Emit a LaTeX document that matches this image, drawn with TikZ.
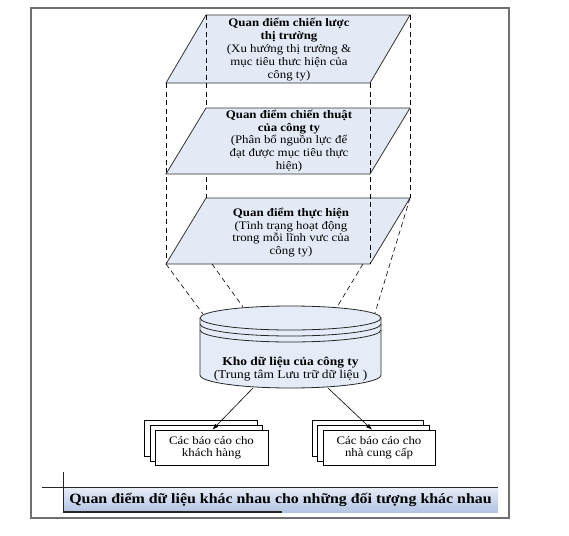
\documentclass[tikz,border=0pt]{standalone}
\usepackage{fontspec}
\setmainfont{Liberation Serif}[FakeStretch=1.12]
\usetikzlibrary{arrows.meta}
\definecolor{pfill}{HTML}{E3EAF6}
\definecolor{cfill}{HTML}{E6ECF7}
\definecolor{framegray}{HTML}{707070}
\definecolor{bartop}{HTML}{E9EEF8}
\definecolor{barbot}{HTML}{B2C4E3}
\tikzset{
  plane/.style={fill=pfill, draw=black!80, line width=0.8pt, line join=miter},
  proj/.style={draw=black, line width=0.6pt, dash pattern=on 5pt off 3.5pt},
  cyl/.style={fill=cfill, draw=black!85, line width=0.8pt},
  ptext/.style={align=center, font=\fontsize{11.5}{12.8}\selectfont, inner sep=0pt},
  rep/.style={draw=black, line width=0.7pt, fill=white},
  reptext/.style={rep, minimum height=35pt, align=center, font=\fontsize{11.5}{12}\selectfont, inner sep=0pt},
  conn/.style={draw=black, line width=0.6pt, -{Latex[length=6pt,width=4.5pt]}}
}
\begin{document}
\begin{tikzpicture}[x=1pt,y=-1pt]
\useasboundingbox (0,0) rectangle (569,535);
% outer frame
\draw[framegray, line width=1.2pt] (31,8) rectangle (509,518);

% plane 1
\path[plane] (166,83) -- (206,15) -- (410,15) -- (370,83) -- cycle;
% projection lines behind plane 2
\draw[proj] (206,15) -- (206,198);
\draw[proj] (410,15) -- (410,198);
\draw[proj] (166,83) -- (166,264);
% plane 2
\path[plane] (166,174) -- (206,108) -- (410,108) -- (370,174) -- cycle;
% plane 3
\path[plane] (166,264) -- (206,198) -- (410,198) -- (370,264) -- cycle;
% projection line in front
\draw[proj] (370,83) -- (370,264);

% texts of planes
\node[ptext] (t1) at (289,49.5) {\textbf{Quan điểm chiến lược}\\\textbf{thị trường}\\(Xu hướng thị trường \&\\mục tiêu thưc hiện của\\công ty)};
\node[ptext] (t2) at (289,141) {\textbf{Quan điểm chiến thuật}\\\textbf{của công ty}\\(Phân bổ nguồn lực để\\đạt được mục tiêu thực\\hiện)};
\node[ptext] (t3) at (291,232.5) {\textbf{Quan điểm thực hiện}\\(Tình trạng hoạt động\\trong mỗi lĩnh vưc của\\công ty)};

% projection lines to the warehouse
\draw[proj] (166,264) -- (203,314);
\draw[proj] (212,264) -- (243,307);
\draw[proj] (363,264) -- (337,307);
\draw[proj] (410,198) -- (375,313);

% cylinder
\path[cyl, draw=none] (200,318) -- (200,375) .. controls (200,382.2) and (240.5,388) .. (290.5,388)
   .. controls (340.5,388) and (381,382.2) .. (381,375) -- (381,318) -- cycle;
\draw[black!85, line width=0.8pt] (200,318) -- (200,375) .. controls (200,382.2) and (240.5,388) .. (290.5,388)
   .. controls (340.5,388) and (381,382.2) .. (381,375) -- (381,318);
\path[cyl] (290.5,318) ellipse [x radius=90.5, y radius=12];
\draw[black!85, line width=0.8pt] (200,324) .. controls (200,330.6) and (240.5,336) .. (290.5,336)
   .. controls (340.5,336) and (381,330.6) .. (381,324);
\draw[black!85, line width=0.8pt] (200,330) .. controls (200,336.6) and (240.5,342) .. (290.5,342)
   .. controls (340.5,342) and (381,336.6) .. (381,330);
\node[ptext, font=\fontsize{12}{13}\selectfont] (db) at (290.5,369.5) {\textbf{Kho dữ liệu của công ty}\\(Trung tâm Lưu trữ dữ liệu )};
\coordinate (dbL) at (253,388);
\coordinate (dbR) at (328,388);

% report stacks
\path[rep] (144,420) rectangle (257,456);
\path[rep] (150,425) rectangle (262,461);
\node[reptext, minimum width=113pt] (repL) at (211.5,447.5) {Các báo cáo cho\\khách hàng};
\path[rep] (312,420) rectangle (423,456);
\path[rep] (317,425) rectangle (429,461);
\node[reptext, minimum width=112pt] (repR) at (379,447.5) {Các báo cáo cho\\nhà cung cấp};

\draw[conn] (dbL) -- ([xshift=1pt]repL.north);
\draw[conn] (dbR) -- ([xshift=-7pt]repR.north);

% title bar
\shade[top color=bartop, bottom color=barbot] (63,487) rectangle (498,512);
\draw[black!85, line width=0.9pt] (42,487) -- (498,487);
\draw[black!85, line width=0.9pt] (63,472) -- (63,512);
\draw[black!85, line width=1.2pt] (63,512) -- (282,512);
\node[inner sep=0pt, font=\fontsize{14.2}{16}\selectfont\bfseries] (title) at (280.5,499.5) {Quan điểm dữ liệu khác nhau cho những đối tượng khác nhau};
\end{tikzpicture}
\end{document}
